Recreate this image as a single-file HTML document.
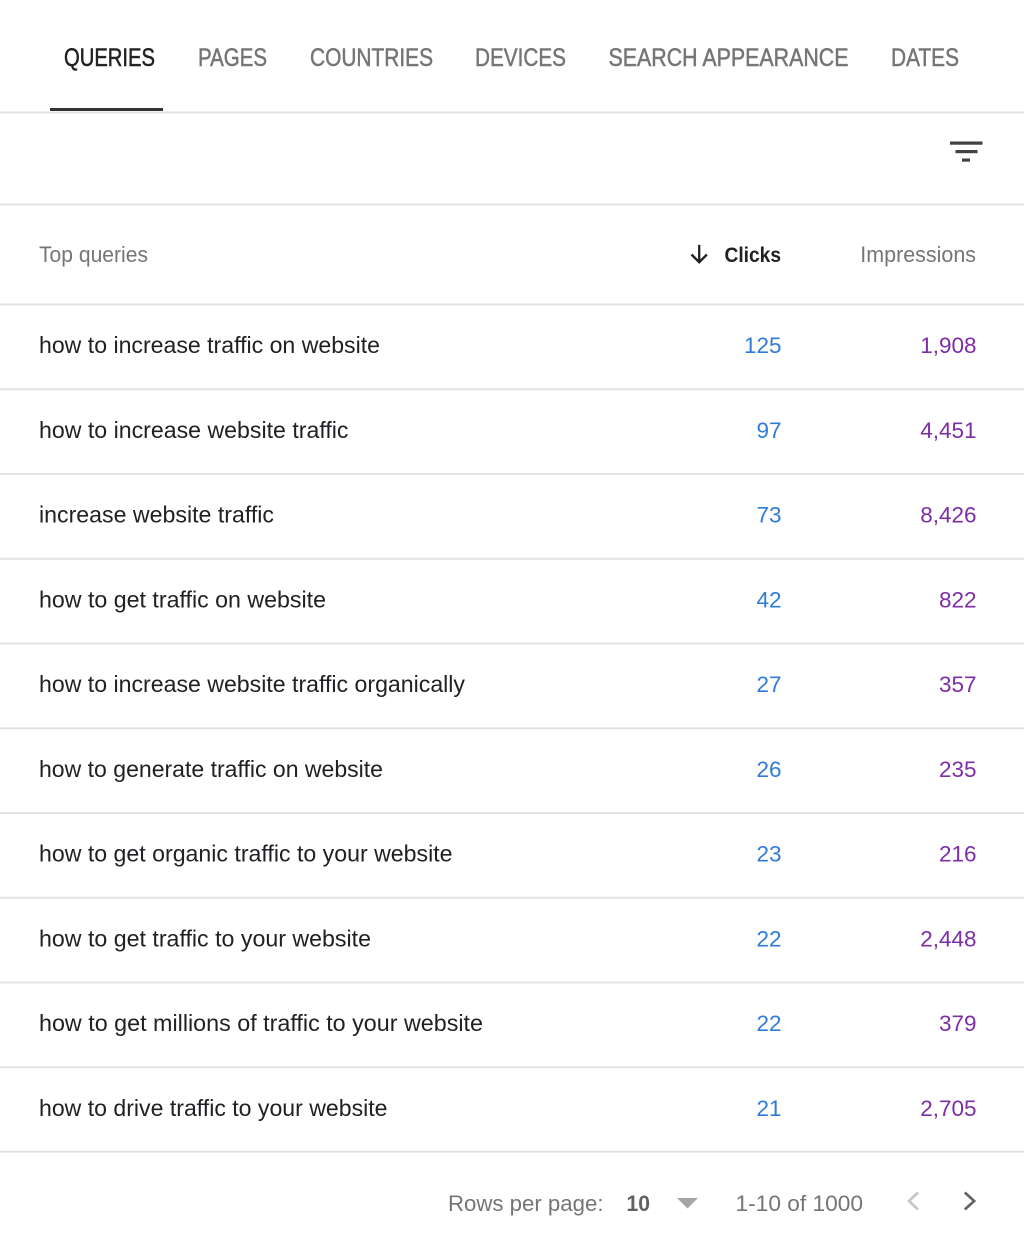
<!DOCTYPE html>
<html>
<head>
<meta charset="utf-8">
<style>
  html, body { margin: 0; padding: 0; background: #ffffff; }
  body { width: 1024px; height: 1251px; overflow: hidden; }
  svg { display: block; }
  text { font-family: "Liberation Sans", Arial, sans-serif; }
</style>
</head>
<body>
<svg width="1024" height="1251" viewBox="0 0 1024 1251" xmlns="http://www.w3.org/2000/svg">
  <rect x="0" y="0" width="1024" height="1251" fill="#ffffff"/>

  <!-- Tabs -->
  <g font-size="25" fill="#757575" stroke="#757575" stroke-width="0.5">
    <text x="64" y="66" textLength="91" lengthAdjust="spacingAndGlyphs" fill="#202124" stroke="#202124">QUERIES</text>
    <text x="198" y="66" textLength="69" lengthAdjust="spacingAndGlyphs">PAGES</text>
    <text x="310" y="66" textLength="123" lengthAdjust="spacingAndGlyphs">COUNTRIES</text>
    <text x="475" y="66" textLength="91" lengthAdjust="spacingAndGlyphs">DEVICES</text>
    <text x="608.5" y="66" textLength="240" lengthAdjust="spacingAndGlyphs">SEARCH APPEARANCE</text>
    <text x="891" y="66" textLength="68" lengthAdjust="spacingAndGlyphs">DATES</text>
  </g>
  <rect x="0" y="111.5" width="1024" height="2" fill="#e3e3e3"/>
  <rect x="50" y="108" width="113" height="3" fill="#333333"/>

  <!-- Filter icon -->
  <g fill="#424242">
    <rect x="950" y="141.5" width="32.5" height="3.2"/>
    <rect x="955.5" y="150" width="22" height="3.2"/>
    <rect x="962" y="158.5" width="8" height="3.2"/>
  </g>

  <rect x="0" y="203.5" width="1024" height="2" fill="#e3e3e3"/>

  <!-- Header row -->
  <text x="39" y="262" font-size="22" fill="#757575" textLength="109" lengthAdjust="spacingAndGlyphs">Top queries</text>
  <g stroke="#202124" stroke-width="2.3" fill="none" stroke-linecap="square">
    <line x1="699.2" y1="246" x2="699.2" y2="261.5"/>
    <polyline points="691.5,254.5 699.2,262.2 706.9,254.5" stroke-linecap="butt" stroke-linejoin="miter"/>
  </g>
  <text x="724.5" y="262" font-size="21" font-weight="bold" fill="#202124" textLength="56.5" lengthAdjust="spacingAndGlyphs">Clicks</text>
  <text x="860.3" y="262" font-size="22" fill="#757575" textLength="115.7" lengthAdjust="spacingAndGlyphs">Impressions</text>

  <!-- Row separators -->
  <g fill="#e3e3e3">
    <rect x="0" y="303.5" width="1024" height="2"/>
    <rect x="0" y="388.25" width="1024" height="2"/>
    <rect x="0" y="473" width="1024" height="2"/>
    <rect x="0" y="557.75" width="1024" height="2"/>
    <rect x="0" y="642.5" width="1024" height="2"/>
    <rect x="0" y="727.25" width="1024" height="2"/>
    <rect x="0" y="812" width="1024" height="2"/>
    <rect x="0" y="896.75" width="1024" height="2"/>
    <rect x="0" y="981.5" width="1024" height="2"/>
    <rect x="0" y="1066.25" width="1024" height="2"/>
    <rect x="0" y="1150.75" width="1024" height="2"/>
  </g>

  <!-- Query text -->
  <g font-size="23" fill="#202124">
    <text x="39" y="353" textLength="341" lengthAdjust="spacingAndGlyphs">how to increase traffic on website</text>
    <text x="39" y="437.75" textLength="309.5" lengthAdjust="spacingAndGlyphs">how to increase website traffic</text>
    <text x="39" y="522.5" textLength="235" lengthAdjust="spacingAndGlyphs">increase website traffic</text>
    <text x="39" y="607.25" textLength="287" lengthAdjust="spacingAndGlyphs">how to get traffic on website</text>
    <text x="39" y="692" textLength="426" lengthAdjust="spacingAndGlyphs">how to increase website traffic organically</text>
    <text x="39" y="776.75" textLength="344" lengthAdjust="spacingAndGlyphs">how to generate traffic on website</text>
    <text x="39" y="861.5" textLength="413.5" lengthAdjust="spacingAndGlyphs">how to get organic traffic to your website</text>
    <text x="39" y="946.25" textLength="332" lengthAdjust="spacingAndGlyphs">how to get traffic to your website</text>
    <text x="39" y="1031" textLength="444" lengthAdjust="spacingAndGlyphs">how to get millions of traffic to your website</text>
    <text x="39" y="1115.75" textLength="348.5" lengthAdjust="spacingAndGlyphs">how to drive traffic to your website</text>
  </g>

  <!-- Clicks -->
  <g font-size="22.5" fill="#2f7bd8" text-anchor="end">
    <text x="781.5" y="353">125</text>
    <text x="781.5" y="437.75">97</text>
    <text x="781.5" y="522.5">73</text>
    <text x="781.5" y="607.25">42</text>
    <text x="781.5" y="692">27</text>
    <text x="781.5" y="776.75">26</text>
    <text x="781.5" y="861.5">23</text>
    <text x="781.5" y="946.25">22</text>
    <text x="781.5" y="1031">22</text>
    <text x="781.5" y="1115.75">21</text>
  </g>

  <!-- Impressions -->
  <g font-size="22.5" fill="#7d2da7" text-anchor="end">
    <text x="976.5" y="353">1,908</text>
    <text x="976.5" y="437.75">4,451</text>
    <text x="976.5" y="522.5">8,426</text>
    <text x="976.5" y="607.25">822</text>
    <text x="976.5" y="692">357</text>
    <text x="976.5" y="776.75">235</text>
    <text x="976.5" y="861.5">216</text>
    <text x="976.5" y="946.25">2,448</text>
    <text x="976.5" y="1031">379</text>
    <text x="976.5" y="1115.75">2,705</text>
  </g>

  <!-- Footer -->
  <text x="448" y="1211" font-size="22" fill="#757575" textLength="155.5" lengthAdjust="spacingAndGlyphs">Rows per page:</text>
  <text x="626.5" y="1211" font-size="22" font-weight="bold" fill="#616161" textLength="23.5" lengthAdjust="spacingAndGlyphs">10</text>
  <polygon points="677,1198 698,1198 687.5,1208.5" fill="#a6a6a6"/>
  <text x="735.5" y="1211" font-size="22" fill="#757575" textLength="127.5" lengthAdjust="spacingAndGlyphs">1-10 of 1000</text>
  <polyline points="918,1192.5 909,1201 918,1209.5" fill="none" stroke="#c6c6c6" stroke-width="2.6"/>
  <polyline points="964.8,1192.5 974.2,1201 964.8,1209.5" fill="none" stroke="#616161" stroke-width="2.6"/>
</svg>
</body>
</html>
